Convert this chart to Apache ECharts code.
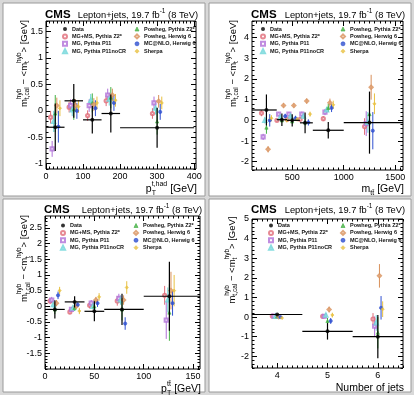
<!DOCTYPE html>
<html>
<head>
<meta charset="utf-8">
<script src="https://cdn.jsdelivr.net/npm/echarts@6/dist/echarts.min.js"></script>
<style>
  html, body { margin: 0; background: #d8d8d8; }
  #chart { width: 414px; height: 395px; }
</style>
</head>
<body>
<div id="chart"></div>
<script>
const FONT = '"Liberation Sans", Arial, sans-serif';

// ---- generators (shared by all four panels) ----
const mcNames = ['MG+MS, Pythia Z2*', 'MG, Pythia P11', 'MG, Pythia P11noCR',
  'Powheg, Pythia Z2*', 'Powheg, Herwig 6', 'MC@NLO, Herwig 6', 'Sherpa'];
const mcColors = ['#e06c78', '#b070d8', '#6cd4d8', '#44b044', '#d8905a', '#3050d0', '#e8c040'];
const mcSymbols = ['emptyCircle', 'emptyRect', 'emptyTriangle', 'triangle', 'emptyDiamond', 'circle', 'diamond'];
const mcShift = [-3, -2, -1, 0, 1, 2, 3];

// ---- panel 1: p_T(t,had) ----
const ptHadX = [25, 75, 125, 175, 300];
const ptHadLo = [0, 50, 100, 150, 200];
const ptHadHi = [50, 100, 150, 200, 400];
const ptHadData = [-0.31, 0.19, -0.17, -0.05, -0.32];
const ptHadDataErr = [0.45, 0.32, 0.26, 0.36, 0.38];
const ptHadMC = [
  [-0.12, 0.07, -0.09, 0.19, -0.05],
  [-0.72, 0.10, 0.10, 0.30, 0.15],
  [-0.20, 0.02, 0.20, 0.22, 0.05],
  [-0.05, 0.03, 0.15, 0.25, -0.20],
  [0.10, 0.10, 0.12, 0.30, 0.18],
  [-0.30, 0.00, 0.05, 0.15, -0.02],
  [0.05, 0.08, 0.15, 0.20, 0.15]
];
const ptHadMCErr = [
  [0.12, 0.10, 0.10, 0.10, 0.10],
  [0.15, 0.12, 0.12, 0.12, 0.12],
  [0.20, 0.12, 0.12, 0.12, 0.12],
  [0.35, 0.20, 0.18, 0.20, 0.25],
  [0.15, 0.12, 0.12, 0.12, 0.12],
  [0.30, 0.15, 0.15, 0.15, 0.15],
  [0.15, 0.12, 0.12, 0.12, 0.12]
];
const ptHadXTicks = [0, 100, 200, 300, 400];
const ptHadYTicks = [-1, -0.5, 0, 0.5, 1, 1.5];

// ---- panel 2: m(tt) ----
const mttX = [250, 400, 500, 625, 850, 1250];
const mttLo = [100, 350, 450, 575, 700, 1000];
const mttHi = [350, 450, 575, 700, 1000, 1600];
const mttData = [0.5, 0.03, 0.0, -0.12, -0.48, -0.11];
const mttDataErr = [0.75, 0.3, 0.3, 0.5, 0.4, 1.5];
const mttMC = [
  [0.35, 0.00, 0.05, 0.05, 0.08, -0.30],
  [-0.80, 0.30, 0.30, 0.30, 0.40, -0.16],
  [0.00, 0.15, 0.20, 0.20, 0.50, -0.10],
  [-0.35, 0.00, -0.05, -0.10, 0.60, 0.30],
  [-1.40, 0.72, 0.72, 0.93, 0.85, 1.60],
  [0.00, 0.20, 0.10, -0.10, 0.60, -0.50],
  [0.10, 0.00, 0.05, 0.30, 0.75, 0.80]
];
const mttMCErr = [
  [0.15, 0.08, 0.08, 0.10, 0.12, 0.40],
  [0.15, 0.10, 0.10, 0.12, 0.15, 0.60],
  [0.15, 0.10, 0.10, 0.12, 0.15, 0.50],
  [0.30, 0.10, 0.10, 0.15, 0.20, 1.00],
  [0.15, 0.10, 0.10, 0.12, 0.20, 0.60],
  [0.30, 0.12, 0.12, 0.15, 0.20, 0.90],
  [0.15, 0.10, 0.10, 0.12, 0.20, 0.50]
];
const mttXTicks = [500, 1000, 1500];
const mttYTicks = [-2, -1, 0, 1, 2, 3, 4];

// ---- panel 3: p_T(tt) ----
const ptTTX = [10, 30, 50, 78, 126];
const ptTTLo = [0, 20, 40, 60, 100];
const ptTTHi = [20, 40, 60, 100, 160];
const ptTTData = [-0.1, 0.14, -0.16, -0.1, 0.32];
const ptTTDataErr = [0.29, 0.18, 0.32, 0.5, 1.1];
const ptTTMC = [
  [0.17, -0.18, 0.03, 0.17, 0.35],
  [0.20, -0.10, 0.10, 0.25, -0.44],
  [0.05, -0.05, 0.00, 0.20, 0.20],
  [-0.10, -0.05, 0.00, -0.10, -0.20],
  [0.10, 0.00, 0.20, 0.20, 0.50],
  [0.35, 0.05, 0.10, -0.55, 0.10],
  [0.50, -0.15, 0.30, 0.60, 0.50]
];
const ptTTMCErr = [
  [0.10, 0.08, 0.10, 0.15, 0.30],
  [0.10, 0.08, 0.10, 0.15, 0.60],
  [0.10, 0.08, 0.10, 0.15, 0.40],
  [0.15, 0.10, 0.20, 0.35, 0.90],
  [0.10, 0.08, 0.10, 0.15, 0.60],
  [0.12, 0.08, 0.12, 0.20, 0.40],
  [0.12, 0.10, 0.12, 0.20, 0.50]
];
const ptTTXTicks = [0, 50, 100, 150];
const ptTTYTicks = [-1.5, -1, -0.5, 0, 0.5, 1, 1.5, 2, 2.5];

// ---- panel 4: number of jets ----
const njX = [4, 5, 6];
const njLo = [3.5, 4.5, 5.5];
const njHi = [4.5, 5.5, 6.5];
const njData = [0.13, -0.73, -1.0];
const njDataErr = [0.04, 0.42, 1.1];
const njMC = [
  [0.05, 0.04, -0.10],
  [0.05, 0.04, -0.47],
  [0.03, 0.10, -0.30],
  [0.03, -0.20, -0.80],
  [0.02, 0.38, 2.10],
  [0.00, -0.20, 0.47],
  [-0.05, 0.10, 0.40]
];
const njMCErr = [
  [0.03, 0.10, 0.30],
  [0.03, 0.10, 0.50],
  [0.03, 0.10, 0.40],
  [0.03, 0.15, 0.80],
  [0.03, 0.15, 0.60],
  [0.03, 0.15, 0.60],
  [0.03, 0.12, 0.40]
];
const njXTicks = [4, 5, 6];
const njYTicks = [-2, -1, 0, 1, 2, 3, 4, 5];

// ---- layout ----
const panels = [
  { box: [3, 3, 202, 193], grid: { left: 46, top: 21, width: 150, height: 148 },
    xr: [0, 405], yr: [-1.1, 1.7], xMinor: 10, yMinor: 0.1, step: 4.2,
    x: ptHadX, lo: ptHadLo, hi: ptHadHi, data: ptHadData, err: ptHadDataErr,
    mc: ptHadMC, mcErr: ptHadMCErr, xTicks: ptHadXTicks, yTicks: ptHadYTicks,
    legend: [62, 134, 26], headY: 15, xTitleY: 189, yTitle: [24, 20],
    xTitle: [{ t: 'p', s: 10.5 }, { t: 't,had', s: 7, dy: -5, stack: true }, { t: 'T', s: 7, dy: 4 }, { t: ' [GeV]', s: 10.5 }] },
  { box: [209, 3, 202, 193], grid: { left: 252, top: 21, width: 151, height: 149 },
    xr: [110, 1575], yr: [-2.4, 4.8], xMinor: 50, yMinor: 0.2, step: 16,
    x: mttX, lo: mttLo, hi: mttHi, data: mttData, err: mttDataErr,
    mc: mttMC, mcErr: mttMCErr, xTicks: mttXTicks, yTicks: mttYTicks,
    legend: [260, 340, 26], headY: 15, xTitleY: 189, yTitle: [233, 20],
    xTitle: [{ t: 'm', s: 10.5 }, { t: 'tt\u0304', s: 7, dy: 4 }, { t: ' [GeV]', s: 10.5 }] },
  { box: [3, 199, 202, 193], grid: { left: 45, top: 216, width: 155, height: 153 },
    xr: [0, 157], yr: [-2.0, 2.88], xMinor: 5, yMinor: 0.1, step: 1.6,
    x: ptTTX, lo: ptTTLo, hi: ptTTHi, data: ptTTData, err: ptTTDataErr,
    mc: ptTTMC, mcErr: ptTTMCErr, xTicks: ptTTXTicks, yTicks: ptTTYTicks,
    legend: [60, 133, 222.5], headY: 210, xTitleY: 389, yTitle: [24.5, 215],
    xTitle: [{ t: 'p', s: 10.5 }, { t: 'tt\u0304', s: 7, dy: -5, stack: true }, { t: 'T', s: 7, dy: 4 }, { t: ' [GeV]', s: 10.5 }] },
  { box: [209, 199, 202, 193], grid: { left: 252, top: 219, width: 151, height: 149 },
    xr: [3.5, 6.5], yr: [-2.6, 5], xMinor: 0.1, yMinor: 0.2, step: 0.032,
    x: njX, lo: njLo, hi: njHi, data: njData, err: njDataErr,
    mc: njMC, mcErr: njMCErr, xTicks: njXTicks, yTicks: njYTicks,
    legend: [268, 340, 222.5], headY: 210, xTitleY: 388, yTitle: [232, 216.5],
    xTitle: [{ t: 'Number of jets', s: 10.5 }] }
];

const yTitleParts = [
  { t: 'm', s: 9.5 }, { t: 'hyb', s: 6.5, dy: -5, stack: true }, { t: 't,cal', s: 6.5, dy: 3.5 },
  { t: ' \u2212 <m', s: 9.5 }, { t: 'hyb', s: 6.5, dy: -5, stack: true }, { t: 't', s: 6.5, dy: 3.5 },
  { t: '> [GeV]', s: 9.5 }
];
const headParts = [
  { t: 'Lepton+jets, 19.7 fb', s: 9.3 }, { t: '-1', s: 6.5, dy: -3.8 }, { t: ' (8 TeV)', s: 9.3 }
];

// ---- helpers ----
const mctx = document.createElement('canvas').getContext('2d');
function textWidth(t, size, weight) {
  mctx.font = `${weight || 'normal'} ${size}px ${FONT}`;
  return mctx.measureText(t).width;
}

// chain text pieces (for super/subscripts), optional rotation
function formula(parts, x, y, align, rotation) {
  let cx = 0, pend = 0;
  const kids = [];
  parts.forEach(p => {
    const w = textWidth(p.t, p.s, p.w);
    kids.push({
      type: 'text', x: cx, y: p.dy || 0,
      style: { text: p.t, font: `${p.w || 'normal'} ${p.s}px ${FONT}`, fill: '#000',
        align: 'left', verticalAlign: 'middle', textAlign: 'left', textVerticalAlign: 'middle' }
    });
    if (p.stack) pend = Math.max(pend, w);
    else { cx += Math.max(w, pend); pend = 0; }
  });
  if (align === 'end') kids.forEach(k => { k.x -= cx; });
  return { type: 'group', x, y, rotation: rotation || 0, z: 10, children: kids };
}

function minorTicks(min, max, step) {
  const out = [];
  for (let i = Math.ceil(min / step - 1e-9); i * step <= max + 1e-9; i++) out.push(+(i * step).toFixed(6));
  return out;
}

// four axes per dimension: major/minor ticks on both sides, labels only on the main side
function axisSet(g, range, majors, minorStep, sides) {
  const minors = minorTicks(range[0], range[1], minorStep);
  const out = [];
  sides.forEach((side, si) => {
    [[majors, 5], [minors, 2.5]].forEach(([vals, len], ki) => {
      out.push({
        type: 'value', gridIndex: g, position: side, min: range[0], max: range[1],
        axisLine: { show: false, onZero: false },
        splitLine: { show: false },
        axisTick: { show: true, inside: true, length: len, customValues: vals,
          lineStyle: { color: '#000', width: 1 } },
        axisLabel: { show: si === 0 && ki === 0, customValues: majors, fontSize: 9,
          fontFamily: FONT, color: '#000', margin: 3, formatter: v => String(v) }
      });
    });
  });
  return out;
}

function errBar(color) {
  return (params, api) => {
    const x = api.value(0), y = api.value(1), e = api.value(2);
    const a = api.coord([x, y + e]), b = api.coord([x, y - e]);
    return { type: 'line', shape: { x1: a[0], y1: a[1], x2: b[0], y2: b[1] },
      style: { stroke: color, lineWidth: 1 } };
  };
}

function dataBars(params, api) {
  const x = api.value(0), y = api.value(1), e = api.value(2);
  const a = api.coord([x, y + e]), b = api.coord([x, y - e]);
  const l = api.coord([api.value(3), y]), r = api.coord([api.value(4), y]);
  return { type: 'group', children: [
    { type: 'line', shape: { x1: a[0], y1: a[1], x2: b[0], y2: b[1] }, style: { stroke: '#000', lineWidth: 1.2 } },
    { type: 'line', shape: { x1: l[0], y1: l[1], x2: r[0], y2: r[1] }, style: { stroke: '#000', lineWidth: 1.2 } }
  ] };
}

// ---- build option ----
const grids = [], xAxes = [], yAxes = [], series = [], legends = [], graphics = [];

panels.forEach((p, g) => {
  grids.push(Object.assign({ show: true, borderColor: '#000', borderWidth: 1,
    backgroundColor: 'transparent', containLabel: false }, p.grid));
  xAxes.push(...axisSet(g, p.xr, p.xTicks, p.xMinor, ['bottom', 'top']));
  yAxes.push(...axisSet(g, p.yr, p.yTicks, p.yMinor, ['left', 'right']));
  const ax = { xAxisIndex: g * 4, yAxisIndex: g * 4 };

  mcNames.forEach((name, k) => {
    const pts = p.x.map((x, i) => [x + mcShift[k] * p.step, p.mc[k][i], p.mcErr[k][i]]);
    series.push(Object.assign({ type: 'custom', clip: true, silent: true, z: 2,
      encode: { x: 0, y: 1 }, data: pts, renderItem: errBar(mcColors[k]) }, ax));
    series.push(Object.assign({ type: 'scatter', name, silent: true, z: 3,
      symbol: mcSymbols[k], symbolSize: 3.2,
      itemStyle: { color: mcColors[k], borderColor: mcColors[k], borderWidth: 0.8 },
      data: pts.map(d => [d[0], d[1]]) }, ax));
  });

  const dataPts = p.x.map((x, i) => [x, p.data[i], p.err[i], p.lo[i], p.hi[i]]);
  series.push(Object.assign({ type: 'custom', clip: true, silent: true, z: 4,
    encode: { x: 0, y: 1 }, data: dataPts, renderItem: dataBars }, ax));
  series.push(Object.assign({ type: 'scatter', name: 'Data', silent: true, z: 5,
    symbol: 'circle', symbolSize: 4, itemStyle: { color: '#000' },
    data: dataPts.map(d => [d[0], d[1]]) }, ax));

  const legendBase = { orient: 'vertical', top: p.legend[2], padding: 0, itemWidth: 4, itemHeight: 4,
    itemGap: 1.4, selectedMode: false, itemStyle: { borderWidth: 0.8 },
    textStyle: { fontSize: 5.5, fontWeight: 'bold', fontFamily: FONT, color: '#111', lineHeight: 6 } };
  legends.push(Object.assign({ left: p.legend[0],
    data: [{ name: 'Data', icon: 'circle' }, ...mcNames.slice(0, 3)] }, legendBase));
  legends.push(Object.assign({ left: p.legend[1], data: mcNames.slice(3) }, legendBase));

  // panel background and labels
  graphics.push({ type: 'rect', z: -10, shape: { x: p.box[0], y: p.box[1], width: p.box[2], height: p.box[3] },
    style: { fill: '#fff', stroke: '#9a9a9a', lineWidth: 1 } });
  const right = p.grid.left + p.grid.width;
  graphics.push({ type: 'text', z: 10, x: p.grid.left - 1, y: p.headY,
    style: { text: 'CMS', font: `bold 11.5px ${FONT}`, fill: '#000', verticalAlign: 'middle', textVerticalAlign: 'middle' } });
  graphics.push(formula(headParts, right + 2, p.headY, 'end'));
  graphics.push(formula(p.xTitle, right + 1, p.xTitleY, 'end'));
  graphics.push(formula(yTitleParts, p.yTitle[0], p.yTitle[1], 'end', Math.PI / 2));
});

const chart = echarts.init(document.getElementById('chart'));
chart.setOption({
  animation: false,
  backgroundColor: '#d8d8d8',
  grid: grids,
  xAxis: xAxes,
  yAxis: yAxes,
  legend: legends,
  graphic: { elements: graphics },
  series
});
</script>
</body>
</html>
